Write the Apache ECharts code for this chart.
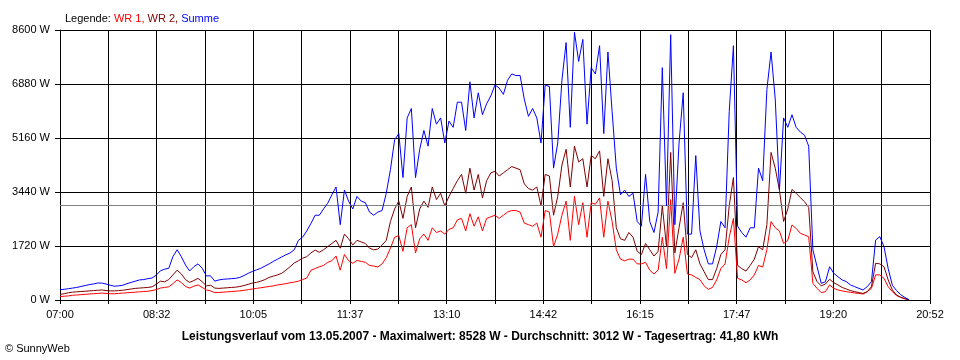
<!DOCTYPE html>
<html>
<head>
<meta charset="utf-8">
<script src="https://cdn.jsdelivr.net/npm/echarts@6/dist/echarts.min.js"></script>
<style>
html,body{margin:0;padding:0;background:#fff;}
#chart{width:960px;height:360px;}
</style>
</head>
<body>
<div id="chart"></div>
<script>
// minutes after 07:00, one sample every 4 minutes
const sampleStepMin = 4;
const spanMinutes = 832; // 07:00 .. 20:52
const xTickLabels = ["07:00","08:32","10:05","11:37","13:10","14:42","16:15","17:47","19:20","20:52"];
const yMax = 8600;
const yStep = 1720;
const averageW = 3012;
const footerText = "Leistungsverlauf vom 13.05.2007 - Maximalwert: 8528 W - Durchschnitt: 3012 W - Tagesertrag: 41,80 kWh";

const summe = [
 330,340,360,380,400,430,460,490,510,540,
 540,510,470,440,450,470,520,560,600,640,
 650,680,700,790,930,980,1010,1380,1600,1380,
 1115,925,1060,1150,1010,765,770,600,640,660,
 670,680,690,720,780,850,910,960,1010,1080,
 1150,1230,1300,1370,1440,1500,1600,1900,2000,2200,
 2440,2700,2700,2900,3080,3350,3600,2400,3500,3150,
 2900,3300,3150,3100,2800,2700,2800,2850,3400,4150,
 5100,5300,3900,5800,6100,3900,4800,5400,4900,6100,
 5600,5800,5000,5700,5500,6300,6300,5400,6950,5800,
 6600,5900,6250,6500,6850,6750,6550,7000,7200,7150,
 7150,6400,5850,6100,5800,5000,6850,6800,4200,5000,
 7000,8200,5500,8528,7600,8300,5600,7400,7200,8100,
 5300,7900,6000,4200,3350,3500,3300,3400,2500,2350,
 4000,2500,2150,2800,7400,3000,8450,2400,5000,6600,
 2100,2100,4600,2200,1600,1150,1150,1700,2500,2300,
 6000,8100,2350,2150,2000,2300,2300,4200,3800,6700,
 7900,6400,3500,5800,5500,5900,5500,5350,5250,4900,
 1600,1060,530,580,1060,850,740,640,585,480,
 425,370,320,425,585,1910,2020,1700,1000,470,
 300,170,80,10
];
const wr2 = [
 180,200,230,250,260,270,280,290,300,310,
 320,300,290,290,300,310,330,350,370,380,
 390,400,420,500,600,580,650,800,950,830,
 650,560,620,690,580,450,470,380,370,380,
 390,400,410,430,460,500,540,560,600,650,
 720,760,800,850,950,1060,1180,1250,1330,1380,
 1500,1590,1520,1600,1700,1800,1900,1650,2100,1950,
 1750,1900,1850,1800,1650,1600,1620,1750,1900,2500,
 2900,3150,2600,3300,3600,2300,2900,3150,2950,3600,
 3200,3400,3000,3300,3550,3800,4000,3400,4200,3500,
 4000,3250,3800,4050,4100,3950,4050,4150,4250,4200,
 4150,3700,3550,3500,3600,3000,4000,3950,2700,3300,
 4300,4800,3600,4900,4400,4500,3600,4600,4500,4750,
 3300,4500,3800,2300,1950,1900,2150,2000,1550,1450,
 1800,1600,1400,1550,3000,1700,4700,1500,2300,3100,
 1450,1350,1600,1150,900,650,650,1000,1450,1600,
 3000,3900,1100,1000,920,1100,1300,1700,1600,2400,
 4700,4200,3500,2500,2900,3520,3400,3260,3130,2950,
 900,585,450,510,660,550,480,400,350,300,
 265,235,210,265,425,1170,1150,1060,640,320,
 160,85,40,5
];
const wr1 = [
 110,120,130,150,160,170,180,190,200,210,
 220,210,200,200,210,220,230,240,250,260,
 270,280,300,330,380,400,420,520,640,560,
 430,380,440,480,400,320,290,235,240,250,
 260,270,280,290,310,330,350,370,390,410,
 430,450,480,500,520,550,570,600,650,700,
 950,1000,1060,1100,1200,1250,1400,950,1450,1250,
 1170,1260,1230,1200,1100,1080,1050,1150,1350,1650,
 2000,2050,1550,2300,2400,1500,1950,2100,1900,2300,
 2150,2200,2100,2250,2300,2550,2600,2200,2750,2350,
 2650,2200,2600,2650,2700,2600,2700,2800,2850,2850,
 2800,2450,2400,2350,2450,2000,2850,2800,1700,2100,
 2700,3150,1900,3300,2400,3100,2000,3100,3050,3250,
 2000,3150,2500,1600,1300,1250,1300,1300,1150,1150,
 1200,950,830,950,2000,1000,3200,850,1300,2000,
 830,800,720,650,450,340,400,640,1000,1150,
 2000,2600,690,640,550,640,800,1100,1050,1600,
 2500,2300,2200,1800,1900,2390,2280,2125,2070,2015,
 530,370,235,265,480,370,320,290,265,245,
 225,210,190,265,370,800,800,690,425,265,
 140,85,40,5
];

function pairs(vals){ return vals.map((v,i)=>[i*sampleStepMin, v]); }

const FONT = "Liberation Sans";
const gridInterval = spanMinutes / 18;
const labelInterval = spanMinutes / 9;

const chart = echarts.init(document.getElementById('chart'), null, {renderer:'canvas'});
chart.setOption({
  animation:false,
  backgroundColor:'#ffffff',
  title:{
    left:60, top:8,
    text:'{k|Legende: }{a|WR 1, }{b|WR 2, }{c|Summe}',
    textStyle:{
      fontFamily:FONT, fontSize:11, fontWeight:'normal',
      rich:{
        k:{color:'#000000',fontFamily:FONT,fontSize:11},
        a:{color:'#ff0000',fontFamily:FONT,fontSize:11},
        b:{color:'#800000',fontFamily:FONT,fontSize:11},
        c:{color:'#0000ff',fontFamily:FONT,fontSize:11}
      }
    }
  },
  grid:{left:60,right:30,top:30,bottom:60,containLabel:false},
  xAxis:{
    type:'value', min:0, max:spanMinutes, interval:gridInterval,
    axisLine:{show:true,lineStyle:{color:'#000',width:1}},
    axisTick:{show:true,length:4,lineStyle:{color:'#000',width:1}},
    splitLine:{show:true,lineStyle:{color:'#000',width:1}},
    axisLabel:{
      color:'#000', fontFamily:FONT, fontSize:11, margin:9,
      showMinLabel:true, showMaxLabel:true,
      formatter:function(v){
        const idx = Math.round(v/labelInterval);
        if (Math.abs(v - idx*labelInterval) < 0.5) return xTickLabels[idx] || '';
        return '';
      }
    }
  },
  yAxis:{
    type:'value', min:0, max:yMax, interval:yStep,
    axisLine:{show:true,lineStyle:{color:'#000',width:1}},
    axisTick:{show:true,length:5,lineStyle:{color:'#000',width:1}},
    splitLine:{show:true,lineStyle:{color:'#000',width:1}},
    axisLabel:{color:'#000', fontFamily:FONT, fontSize:11, margin:10,
      formatter:function(v){ return String(Math.round(v)) + ' W'; }}
  },
  series:[
    {name:'WR 1', type:'line', data:pairs(wr1), symbol:'none', showSymbol:false,
     lineStyle:{color:'#ff0000',width:1}, itemStyle:{color:'#ff0000'}, z:3},
    {name:'WR 2', type:'line', data:pairs(wr2), symbol:'none', showSymbol:false,
     lineStyle:{color:'#800000',width:1}, itemStyle:{color:'#800000'}, z:4},
    {name:'Summe', type:'line', data:pairs(summe), symbol:'none', showSymbol:false,
     lineStyle:{color:'#0000ff',width:1}, itemStyle:{color:'#0000ff'}, z:5,
     markLine:{silent:true, symbol:['none','none'], label:{show:false},
       lineStyle:{color:'#808080',width:1,type:'solid'},
       data:[{yAxis:averageW}]}
    }
  ],
  graphic:[
    {type:'text', left:'center', top:331,
     style:{text:footerText, fill:'#000', font:'bold 12px "Liberation Sans"'}},
    {type:'text', left:5, top:343,
     style:{text:'© SunnyWeb', fill:'#000', font:'11px "Liberation Sans"'}}
  ]
});
</script>
</body>
</html>
